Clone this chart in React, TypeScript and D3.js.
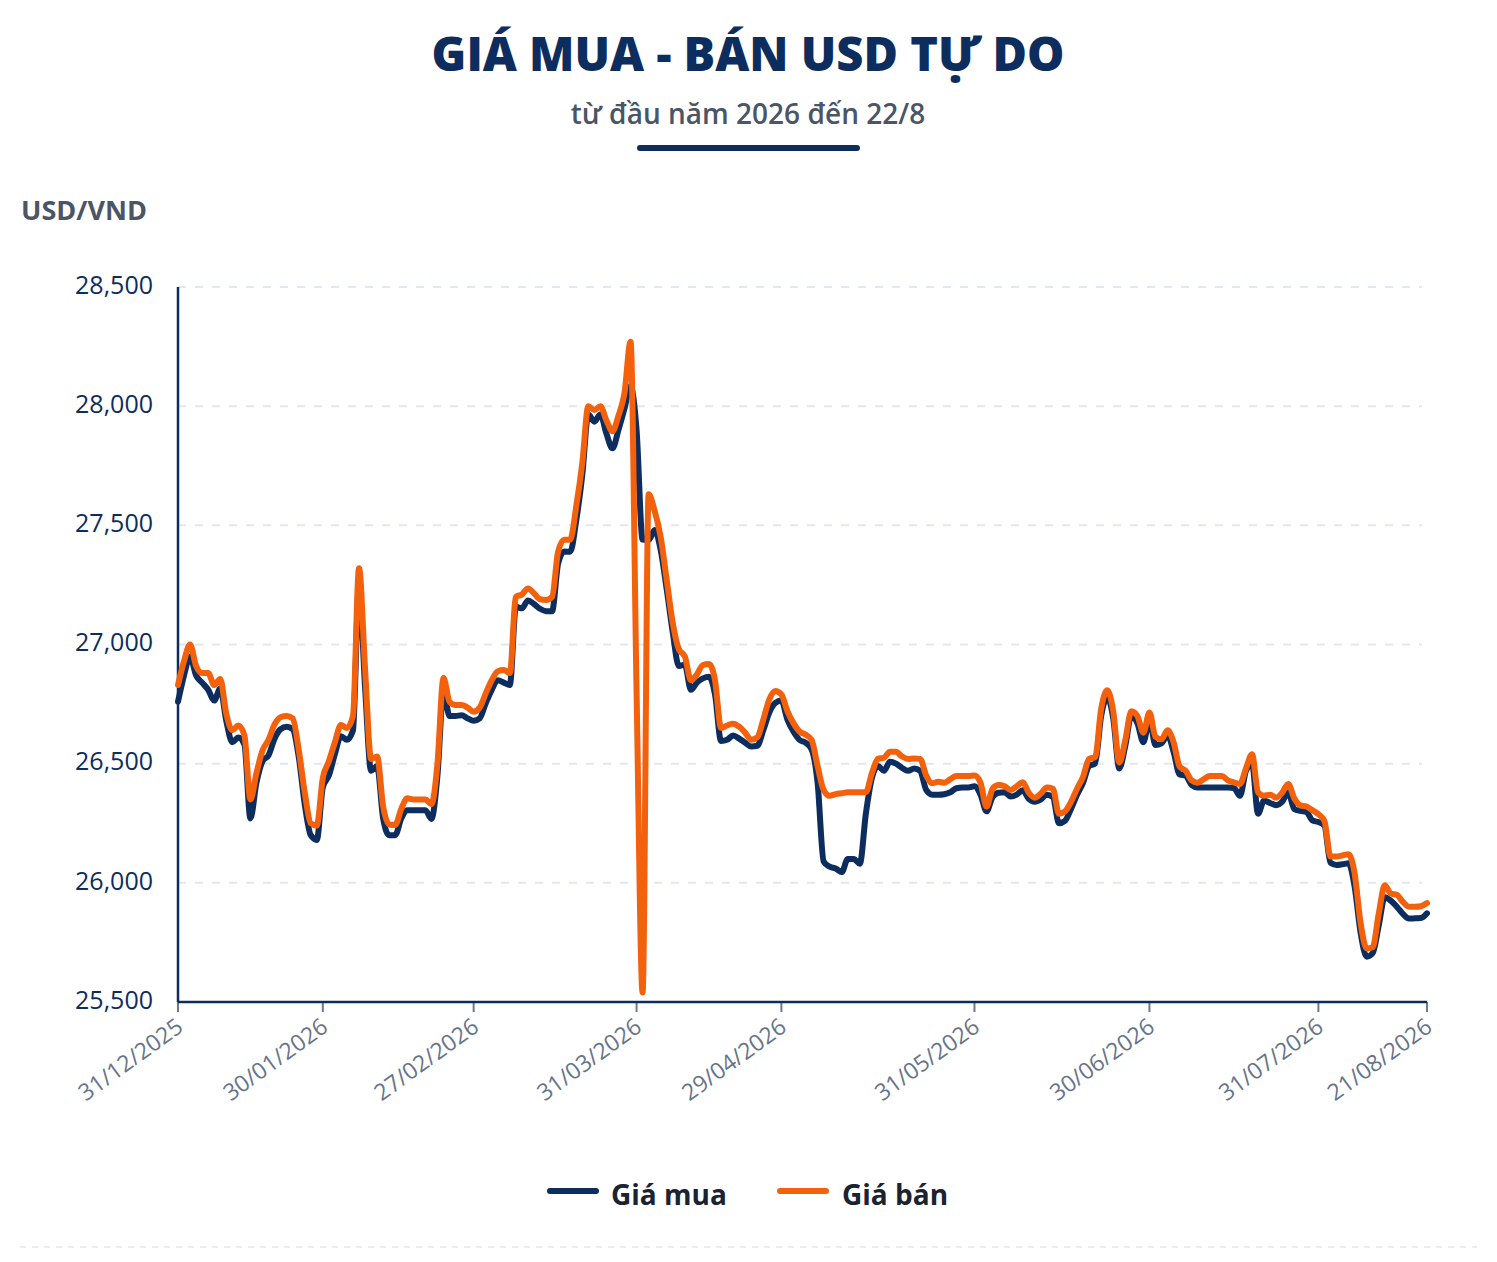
import { useEffect } from 'react';
import * as d3 from 'd3';

// Giá bán (sell) and giá mua (buy), one value per trading day in the dataset
const sellPrices = [
  26830, 26930, 27000, 26910, 26880, 26880, 26830, 26855, 26710, 26640,
  26660, 26620, 26350, 26460, 26555, 26600, 26665, 26695, 26700, 26690,
  26560, 26380, 26250, 26240, 26440, 26510, 26590, 26662, 26650, 26700,
  27320, 26900, 26520, 26530, 26320, 26245, 26243, 26310, 26355, 26350,
  26350, 26350, 26330, 26500, 26860, 26760, 26746, 26746, 26735, 26718,
  26735, 26795, 26850, 26888, 26893, 26880, 27200, 27210, 27235, 27215,
  27190, 27187, 27200, 27390, 27440, 27440, 27580, 27760, 28000, 27984,
  28000, 27940, 27895, 27960, 28055, 28270, 26800, 25540, 27630, 27560,
  27450, 27270, 27090, 26980, 26950, 26850, 26875, 26914, 26918, 26850,
  26650, 26660, 26668, 26655, 26630, 26600, 26610, 26685, 26770, 26805,
  26790, 26720, 26670, 26635, 26622, 26600, 26490, 26390, 26365, 26372,
  26376, 26380, 26380, 26380, 26380, 26460, 26520, 26525, 26550, 26550,
  26530, 26520, 26522, 26520, 26450, 26418, 26424, 26420, 26435, 26448,
  26448, 26448, 26450, 26420, 26320, 26395, 26410, 26405, 26390, 26405,
  26422, 26378, 26357, 26375, 26400, 26395, 26290, 26300, 26340, 26395,
  26445, 26520, 26527, 26730, 26808, 26720, 26505, 26600, 26720, 26700,
  26630, 26715, 26613, 26602, 26640, 26590, 26488, 26470, 26430, 26420,
  26435, 26448, 26448, 26448, 26430, 26421, 26415, 26480, 26540, 26380,
  26365, 26370, 26357, 26378, 26415, 26355, 26325, 26320, 26305, 26288,
  26260, 26110, 26110, 26115, 26120, 26040, 25830, 25725, 25730, 25870,
  25990, 25955, 25950, 25920, 25900, 25900, 25902, 25915,
];

const buyPrices = [
  26760, 26870, 26950, 26870, 26840, 26810, 26765, 26815, 26680, 26590,
  26610, 26580, 26270, 26420, 26510, 26535, 26605, 26645, 26655, 26645,
  26530, 26330, 26200, 26180, 26400, 26450, 26540, 26615, 26600, 26640,
  27250, 26820, 26470, 26490, 26270, 26200, 26200, 26270, 26305, 26305,
  26305, 26305, 26268, 26450, 26805, 26700, 26700, 26703, 26690, 26680,
  26690, 26753, 26810, 26850, 26840, 26830, 27158, 27152, 27185, 27170,
  27150, 27140, 27140, 27340, 27390, 27389, 27520, 27710, 27965, 27935,
  27965, 27885, 27823, 27900, 27990, 28085, 27900, 27440, 27438, 27480,
  27396, 27230, 27050, 26910, 26915, 26810, 26840, 26858, 26865, 26790,
  26595, 26600, 26618, 26605, 26588, 26572, 26575, 26640, 26715, 26755,
  26765, 26685, 26635, 26600, 26588, 26560, 26420, 26090, 26068, 26060,
  26045, 26100, 26100, 26080, 26290, 26440, 26490, 26470, 26508, 26500,
  26482, 26470, 26480, 26470, 26390, 26370, 26370, 26372, 26380, 26397,
  26400, 26400, 26405, 26370, 26300, 26360, 26378, 26380, 26362, 26370,
  26388, 26352, 26340, 26350, 26370, 26360, 26250, 26260, 26310, 26370,
  26420, 26490, 26501, 26700, 26780, 26690, 26480, 26575, 26700, 26670,
  26590, 26685, 26578, 26585, 26620, 26550, 26455, 26450, 26410, 26400,
  26400, 26400, 26400, 26400, 26400, 26398, 26365, 26470, 26500, 26290,
  26345, 26335, 26326, 26340, 26380, 26310, 26302, 26298, 26262, 26255,
  26240, 26085, 26075, 26078, 26082, 25985, 25790, 25690, 25705, 25820,
  25940, 25925, 25900, 25870, 25850, 25851, 25852, 25872,
];

const tickLabels = [
  '31/12/2025', '30/01/2026', '27/02/2026', '31/03/2026', '29/04/2026',
  '31/05/2026', '30/06/2026', '31/07/2026', '21/08/2026',
];
const tickIndex = [0, 24, 49, 76, 100, 132, 161, 189, 207];
const yTicks = [25500, 26000, 26500, 27000, 27500, 28000, 28500];

const NAVY = '#0c2d5e';
const ORANGE = '#f4610c';
const FONT = '"Open Sans", "Noto Sans", sans-serif';

export default function App() {
  useEffect(() => {
    document.body.style.margin = '0';
  }, []);

  const width = 1497;
  const height = 1262;
  const left = 178;
  const right = 1427;
  const top = 287;
  const bottom = 1002;

  const x = d3.scaleLinear().domain([0, sellPrices.length - 1]).range([left, right]);
  const y = d3.scaleLinear().domain([25500, 28500]).range([bottom, top]);

  const line = d3.line<number>()
    .x((_, i) => x(i))
    .y(d => y(d))
    .curve(d3.curveMonotoneX);

  const fmt = d3.format(',');

  return (
    <svg width={width} height={height} style={{ display: 'block', fontFamily: FONT }}>
      <rect width={width} height={height} fill="#ffffff" />

      {/* Title block */}
      <text x={748} y={71} textAnchor="middle" fontSize={47} fontWeight={800} fill={NAVY}>
        GIÁ MUA - BÁN USD TỰ DO
      </text>
      <text x={748} y={124} textAnchor="middle" fontSize={28} fontWeight={600} fill="#4a5568">
        từ đầu năm 2026 đến 22/8
      </text>
      <line x1={640} x2={857} y1={148} y2={148} stroke={NAVY} strokeWidth={6} strokeLinecap="round" />

      <text x={21} y={220} fontSize={27} fontWeight={700} fill="#4a5568">USD/VND</text>

      {/* Grid */}
      {yTicks.map(t => (
        <g key={t}>
          {t > 25500 && (
            <line x1={left} x2={1422} y1={y(t)} y2={y(t)}
              stroke="#e2e8f0" strokeWidth={2} strokeDasharray="8,9" />
          )}
          <text x={153} y={y(t)} textAnchor="end" dominantBaseline="middle"
            fontSize={25} fill={NAVY}>
            {fmt(t)}
          </text>
        </g>
      ))}

      {/* Axes */}
      <line x1={left} x2={left} y1={top} y2={bottom} stroke={NAVY} strokeWidth={2.5} />
      {tickIndex.map((ti, i) => (
        <g key={ti} transform={`translate(${x(ti)},${bottom})`}>
          <line y1={0} y2={10} stroke="#6b7a90" strokeWidth={2} />
          <text transform="translate(3,23) rotate(-36)" textAnchor="end"
            dominantBaseline="middle" fontSize={23} fill="#667489">
            {tickLabels[i]}
          </text>
        </g>
      ))}
      <line x1={left} x2={right} y1={bottom} y2={bottom} stroke={NAVY} strokeWidth={2.5} />

      {/* Lines */}
      <path d={line(buyPrices) || ''} fill="none" stroke={NAVY} strokeWidth={6}
        strokeLinejoin="round" strokeLinecap="round" />
      <path d={line(sellPrices) || ''} fill="none" stroke={ORANGE} strokeWidth={6}
        strokeLinejoin="round" strokeLinecap="round" />

      {/* Legend */}
      <line x1={550} x2={596} y1={1191} y2={1191} stroke={NAVY} strokeWidth={6} strokeLinecap="round" />
      <text x={611} y={1205} fontSize={28} fontWeight={700} fill="#1a2332">Giá mua</text>
      <line x1={780} x2={826} y1={1191} y2={1191} stroke={ORANGE} strokeWidth={6} strokeLinecap="round" />
      <text x={842} y={1205} fontSize={28} fontWeight={700} fill="#1a2332">Giá bán</text>

      <line x1={20} x2={1477} y1={1247} y2={1247} stroke="#e5e7eb" strokeWidth={1.5} strokeDasharray="6,6" />
    </svg>
  );
}
